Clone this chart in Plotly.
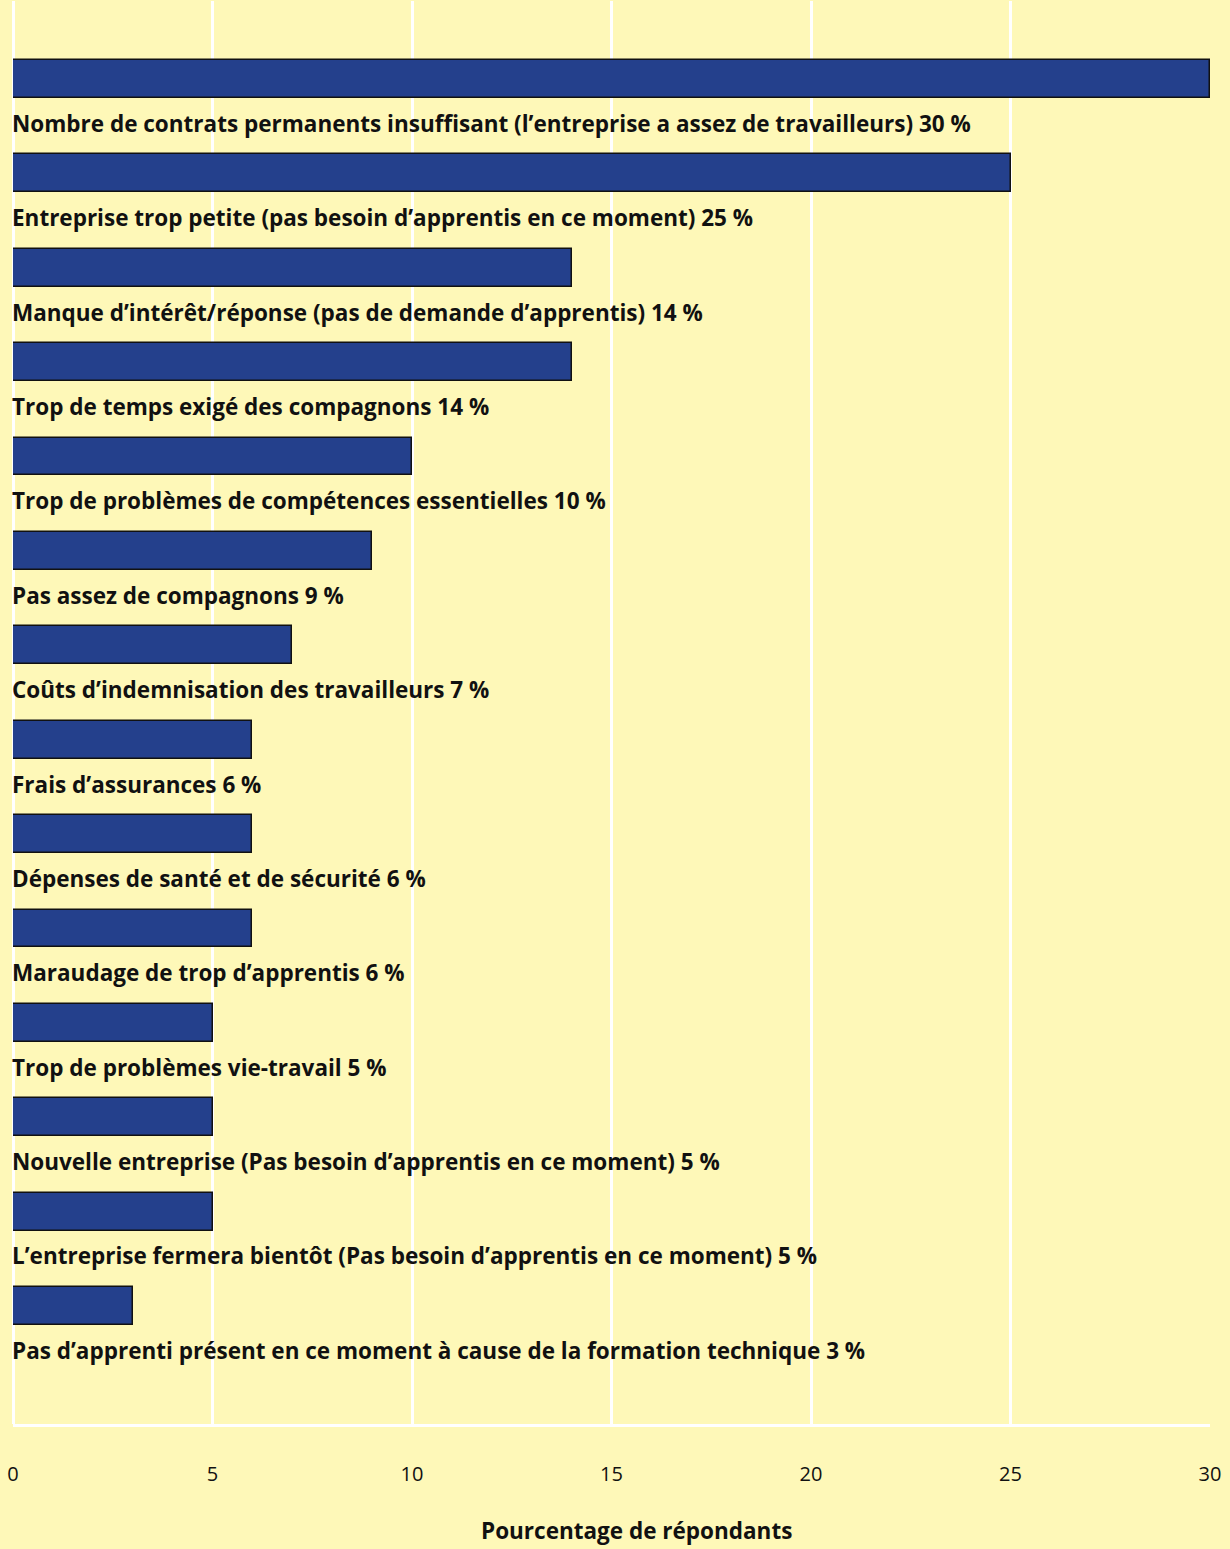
import plotly.graph_objects as go

categories = [
    "Nombre de contrats permanents insuffisant (l’entreprise a assez de travailleurs)",
    "Entreprise trop petite (pas besoin d’apprentis en ce moment)",
    "Manque d’intérêt/réponse (pas de demande d’apprentis)",
    "Trop de temps exigé des compagnons",
    "Trop de problèmes de compétences essentielles",
    "Pas assez de compagnons",
    "Coûts d’indemnisation des travailleurs",
    "Frais d’assurances",
    "Dépenses de santé et de sécurité",
    "Maraudage de trop d’apprentis",
    "Trop de problèmes vie-travail",
    "Nouvelle entreprise (Pas besoin d’apprentis en ce moment)",
    "L’entreprise fermera bientôt (Pas besoin d’apprentis en ce moment)",
    "Pas d’apprenti présent en ce moment à cause de la formation technique",
]
values = [30, 25, 14, 14, 10, 9, 7, 6, 6, 6, 5, 5, 5, 3]
x_ticks = [0, 5, 10, 15, 20, 25, 30]
x_title = "Pourcentage de répondants"

BG = "#FEF8B8"
BAR = "#24408C"
FONT = "Open Sans"

positions = list(range(len(categories)))

fig = go.Figure()
fig.add_trace(go.Bar(
    x=values,
    y=positions,
    orientation="h",
    width=0.40,
    marker=dict(color=BAR, line=dict(color="#111111", width=1.5)),
    hoverinfo="skip",
))

for i, (c, v) in enumerate(zip(categories, values)):
    fig.add_annotation(
        x=0, y=i + 0.47, xref="x", yref="y",
        text=f"<b>{c} {v}\u00a0%</b>",
        showarrow=False, xanchor="left", yanchor="middle",
        xshift=-3,
        font=dict(family=FONT, size=22.5, color="#111111"),
    )

fig.add_annotation(
    x=0.521, y=-0.075, xref="paper", yref="paper",
    text=f"<b>{x_title}</b>", showarrow=False,
    xanchor="center", yanchor="middle",
    font=dict(family=FONT, size=22.5, color="#111111"),
)

fig.update_layout(
    width=1230, height=1549,
    paper_bgcolor=BG, plot_bgcolor=BG,
    margin=dict(l=13, r=20, t=1, b=125),
    showlegend=False,
    bargap=0,
)
fig.update_xaxes(
    range=[0, 30], tickvals=x_ticks, ticktext=[str(t) for t in x_ticks],
    showgrid=True, gridcolor="white", gridwidth=3,
    zeroline=True, zerolinecolor="white", zerolinewidth=3,
    showline=True, linecolor="white", linewidth=3,
    ticks="", ticklabelstandoff=30,
    tickfont=dict(family=FONT, size=20, color="#111111"),
    fixedrange=True,
)
fig.update_yaxes(
    range=[14.25, -0.826], showgrid=False, zeroline=False,
    showticklabels=False, showline=False, fixedrange=True,
)

fig.write_html(
    "out.html",
    config={"displayModeBar": False},
    post_script="document.body.style.margin='0';document.body.style.background='" + BG + "';",
)
